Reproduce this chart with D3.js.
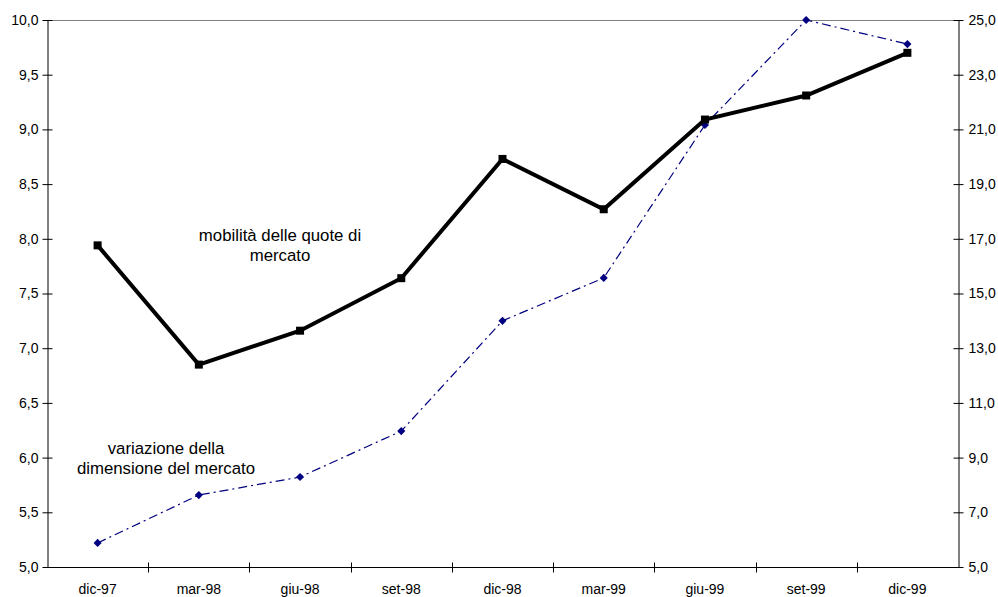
<!DOCTYPE html>
<html>
<head>
<meta charset="utf-8">
<script src="https://cdn.jsdelivr.net/npm/d3@7"></script>
<style>
  html, body { margin: 0; padding: 0; background: #fff; }
  svg { display: block; font-family: "Liberation Sans", Arial, sans-serif; }
</style>
</head>
<body>
<svg id="chart" width="998" height="597"></svg>
<script>
// Quarterly periods
const periods = ["dic-97", "mar-98", "giu-98", "set-98", "dic-98", "mar-99", "giu-99", "set-99", "dic-99"];
// Market share mobility (left axis)
const mobilita = [7.94, 6.85, 7.16, 7.64, 8.73, 8.27, 9.09, 9.31, 9.70];
// Change in market size (right axis)
const variazione = [5.88, 7.63, 8.29, 9.97, 14.0, 15.57, 21.16, 25.0, 24.12];
// Axis tick values
const leftTicks = [5.0, 5.5, 6.0, 6.5, 7.0, 7.5, 8.0, 8.5, 9.0, 9.5, 10.0];
const rightTicks = [5, 7, 9, 11, 13, 15, 17, 19, 21, 23, 25];

(function () {
const svg = d3.select("#chart");
const mLeft = 47, mRight = 958, mTop = 20, mBottom = 567;

const x = d3.scaleBand().domain(periods).range([mLeft, mRight]).padding(0);
const yL = d3.scaleLinear().domain([5, 10]).range([mBottom, mTop]);
const yR = d3.scaleLinear().domain([5, 25]).range([mBottom, mTop]);
const fmt = v => d3.format(".1f")(v).replace(".", ",");
const cx = d => x(d) + x.bandwidth() / 2;

// Top border line
svg.append("line")
  .attr("x1", mLeft).attr("x2", mRight)
  .attr("y1", mTop + 0.5).attr("y2", mTop + 0.5)
  .attr("stroke", "#808080").attr("stroke-width", 1);

// Left axis
const gL = svg.append("g").attr("transform", `translate(${mLeft + 0.5},0)`)
  .call(d3.axisLeft(yL).tickValues(leftTicks).tickFormat(fmt).tickSizeInner(5).tickSizeOuter(0).tickPadding(4));
gL.selectAll(".tick line").attr("x1", 5);

// Right axis
const gR = svg.append("g").attr("transform", `translate(${mRight + 0.5},0)`)
  .call(d3.axisRight(yR).tickValues(rightTicks).tickFormat(fmt).tickSizeInner(5).tickSizeOuter(0).tickPadding(5));
gR.selectAll(".tick line").attr("x1", -5);

// Bottom axis: ticks at category boundaries
const gB = svg.append("g").attr("transform", `translate(0,${mBottom + 0.5})`);
gB.append("line").attr("x1", mLeft).attr("x2", mRight).attr("stroke", "#000");
const bounds = periods.map(p => x(p)).concat([mRight]);
gB.selectAll("line.tk").data(bounds.slice(1, -1)).enter().append("line")
  .attr("class", "tk")
  .attr("x1", d => Math.round(d) + 0.5).attr("x2", d => Math.round(d) + 0.5)
  .attr("y1", -5).attr("y2", 5).attr("stroke", "#000");
gB.selectAll("text").data(periods).enter().append("text")
  .attr("x", d => cx(d)).attr("y", 26)
  .attr("text-anchor", "middle")
  .attr("font-size", 14).attr("fill", "#000")
  .text(d => d);

[gL, gR].forEach(g => {
  g.selectAll("text").attr("font-size", 14).attr("fill", "#000").attr("font-family", "Liberation Sans, Arial, sans-serif");
  g.selectAll("line, path").attr("stroke", "#000");
});

// Market size series (dash-dot, navy diamonds)
const lineR = d3.line().x((d, i) => cx(periods[i])).y(d => yR(d));
svg.append("path").datum(variazione)
  .attr("d", lineR).attr("fill", "none")
  .attr("stroke", "#000080").attr("stroke-width", 1.2)
  .attr("stroke-dasharray", "9,4,2,4");
svg.selectAll("path.diamond").data(variazione).enter().append("path")
  .attr("class", "diamond")
  .attr("d", d3.symbol().type(d3.symbolDiamond2).size(42))
  .attr("transform", (d, i) => `translate(${cx(periods[i])},${yR(d)})`)
  .attr("fill", "#000080");

// Mobility series (thick black, square markers)
const lineL = d3.line().x((d, i) => cx(periods[i])).y(d => yL(d));
svg.append("path").datum(mobilita)
  .attr("d", lineL).attr("fill", "none")
  .attr("stroke", "#000").attr("stroke-width", 4)
  .attr("stroke-linejoin", "miter");
svg.selectAll("rect.sq").data(mobilita).enter().append("rect")
  .attr("class", "sq")
  .attr("x", (d, i) => cx(periods[i]) - 4).attr("y", d => yL(d) - 4)
  .attr("width", 8).attr("height", 8).attr("fill", "#000");

// Series labels
const lbl = (lines, xc, y0) => {
  const t = svg.append("text").attr("text-anchor", "middle").attr("font-size", 16.8).attr("fill", "#000");
  lines.forEach((s, i) => t.append("tspan").attr("x", xc).attr("y", y0 + i * 20).text(s));
};
lbl(["mobilità delle quote di", "mercato"], 280, 241);
lbl(["variazione della", "dimensione del mercato"], 166, 454);
})();
</script>
</body>
</html>
